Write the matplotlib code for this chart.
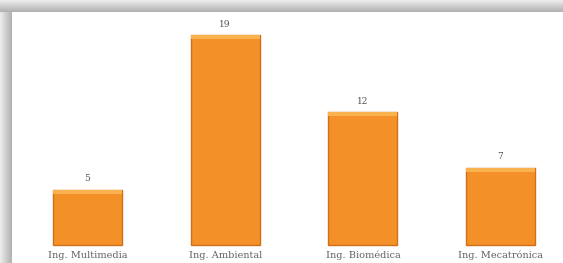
import numpy as np
import matplotlib.pyplot as plt
from matplotlib.patches import Rectangle

# datos del grafico
carreras = ['Ing. Multimedia', 'Ing. Ambiental', 'Ing. Biomédica', 'Ing. Mecatrónica']
valores = [5, 19, 12, 7]

W, H = 563, 263
fig = plt.figure(figsize=(W / 100, H / 100), dpi=100)
fig.patch.set_facecolor('white')

# marco gris con sombra (arriba e izquierda)
bg = fig.add_axes([0, 0, 1, 1])
bg.set_xlim(0, W)
bg.set_ylim(H, 0)
bg.axis('off')
grad_top = np.linspace(0.92, 0.70, 12).reshape(-1, 1)
bg.imshow(np.repeat(grad_top, 10, axis=1), cmap='gray', vmin=0, vmax=1,
          extent=[0, W, 12, 0], aspect='auto', interpolation='bilinear')
grad_left = np.linspace(0.92, 0.70, 12).reshape(1, -1)
bg.imshow(np.repeat(grad_left, 10, axis=0), cmap='gray', vmin=0, vmax=1,
          extent=[0, 12, H, 12], aspect='auto', interpolation='bilinear')
bg.set_xlim(0, W)
bg.set_ylim(H, 0)

# ejes de barras
ax = fig.add_axes([0, 0, 1, 1])
ax.patch.set_alpha(0)
x = np.arange(len(carreras))
paso = 137.7
x0 = 87.5
escala = 11.05
base = 245
ax.set_xlim((0 - x0) / paso, (W - x0) / paso)
ax.set_ylim(-(H - base) / escala, base / escala)
ax.axis('off')

barras = ax.bar(x, valores, width=0.5, color='#F39028', edgecolor='#D0701A',
                linewidth=1.0, zorder=2)

# brillo superior de cada barra
for b in barras:
    ax.add_patch(Rectangle((b.get_x(), b.get_height() - 0.35), b.get_width(), 0.35,
                           facecolor='#F9B24E', edgecolor='none', zorder=3))

for xi, v in zip(x, valores):
    ax.text(xi, v + 1.0, str(v), ha='center', va='center', fontsize=6.5,
            color='#505050', family='DejaVu Serif')
    ax.text(xi, -0.95, carreras[xi], ha='center', va='center', fontsize=7,
            color='#606060', family='DejaVu Serif')

fig.savefig('out.png', dpi=100)
